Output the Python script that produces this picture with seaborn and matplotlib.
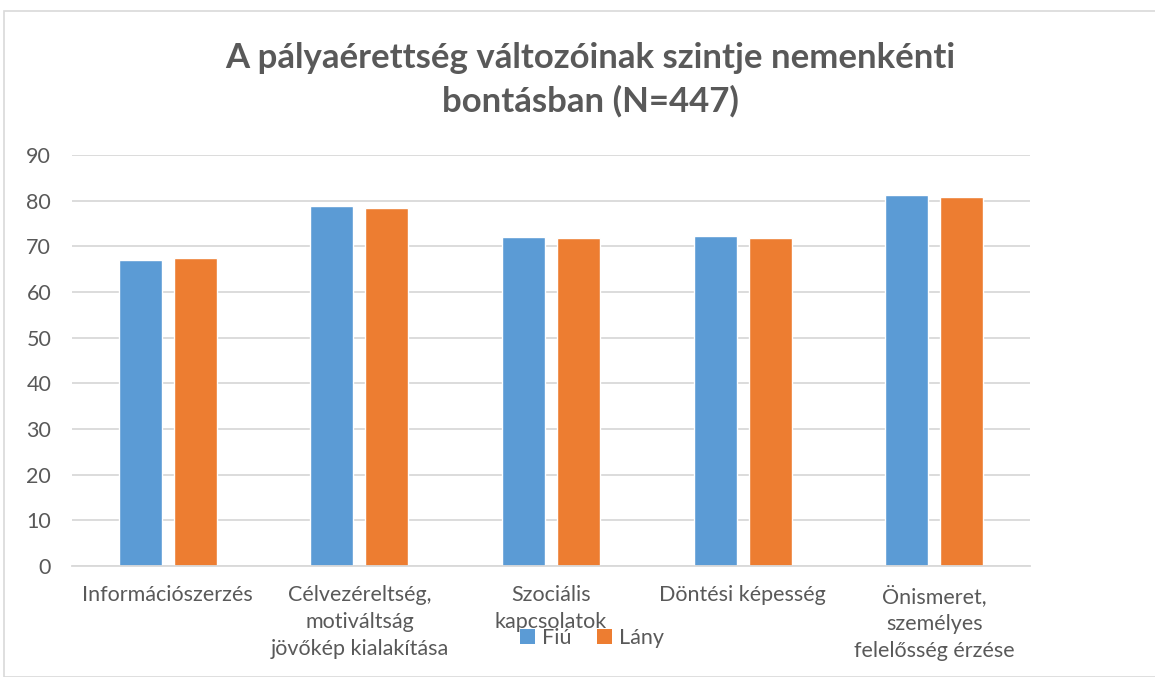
import matplotlib
matplotlib.use("Agg")
import matplotlib.pyplot as plt
import seaborn as sns
import pandas as pd
from matplotlib.patches import Rectangle, Patch

categories = ["Információszerzés",
              "Célvezéreltség,\nmotiváltság\njövőkép kialakítása",
              "Szociális\nkapcsolatok",
              "Döntési képesség",
              "Önismeret,\nszemélyes\nfelelősség érzése"]
fiu = [67.0, 78.9, 72.0, 72.2, 81.2]
lany = [67.4, 78.5, 71.8, 71.9, 80.9]
series = ["Fiú", "Lány"]
colors = ["#5B9BD5", "#ED7D31"]
yticks = [0, 10, 20, 30, 40, 50, 60, 70, 80, 90]

df = pd.DataFrame({
    "cat": categories * 2,
    "val": fiu + lany,
    "sex": [series[0]] * len(categories) + [series[1]] * len(categories),
})

sns.set_theme(style="white")
plt.rcParams["font.family"] = ["Lato", "DejaVu Sans"]
TXT = "#595959"

fig = plt.figure(figsize=(11.55, 6.77), dpi=100)
ax = fig.add_axes([72/1155, 1-566/677, (1030-72)/1155, (566-155)/677])

sns.barplot(data=df, x="cat", y="val", hue="sex", palette=colors,
            width=0.574, gap=0.22, ax=ax, legend=False, saturation=1)

ax.set_ylim(0, 90)
ax.set_xlim(-0.5, len(categories) - 0.5)
ax.set_yticks(yticks)
ax.yaxis.grid(True, color="#D9D9D9", linewidth=1.3)
ax.set_axisbelow(True)
for s in ["top", "right", "left"]:
    ax.spines[s].set_visible(False)
ax.spines["bottom"].set_color("#D9D9D9")
ax.spines["bottom"].set_linewidth(1.3)
ax.tick_params(axis="both", length=0, colors=TXT, labelsize=15.5)
ax.tick_params(axis="y", pad=15)
ax.tick_params(axis="x", pad=14)
ax.set_xlabel("")
ax.set_ylabel("")
for lbl in ax.get_xticklabels():
    lbl.set_linespacing(1.42)
    lbl.set_verticalalignment("top")

fig.text(590/1155, 1-80/677, "A pályaérettség változóinak szintje nemenkénti\nbontásban (N=447)",
         ha="center", va="center", fontsize=25, fontweight="bold", color=TXT, linespacing=1.4)

handles = [Patch(facecolor=c, edgecolor="none") for c in colors]
fig.legend(handles, series, loc="center", bbox_to_anchor=(592/1155, 1-638/677),
           ncol=2, frameon=False, fontsize=15.5, labelcolor=TXT,
           handlelength=0.7, handleheight=0.7, handletextpad=0.3, columnspacing=1.2)

fig.patches.append(Rectangle((4/1155, 0), 1.2, 1-11/677, transform=fig.transFigure,
                             fill=False, edgecolor="#D9D9D9", linewidth=1.2))

fig.savefig("out.png", dpi=100, facecolor="white")
